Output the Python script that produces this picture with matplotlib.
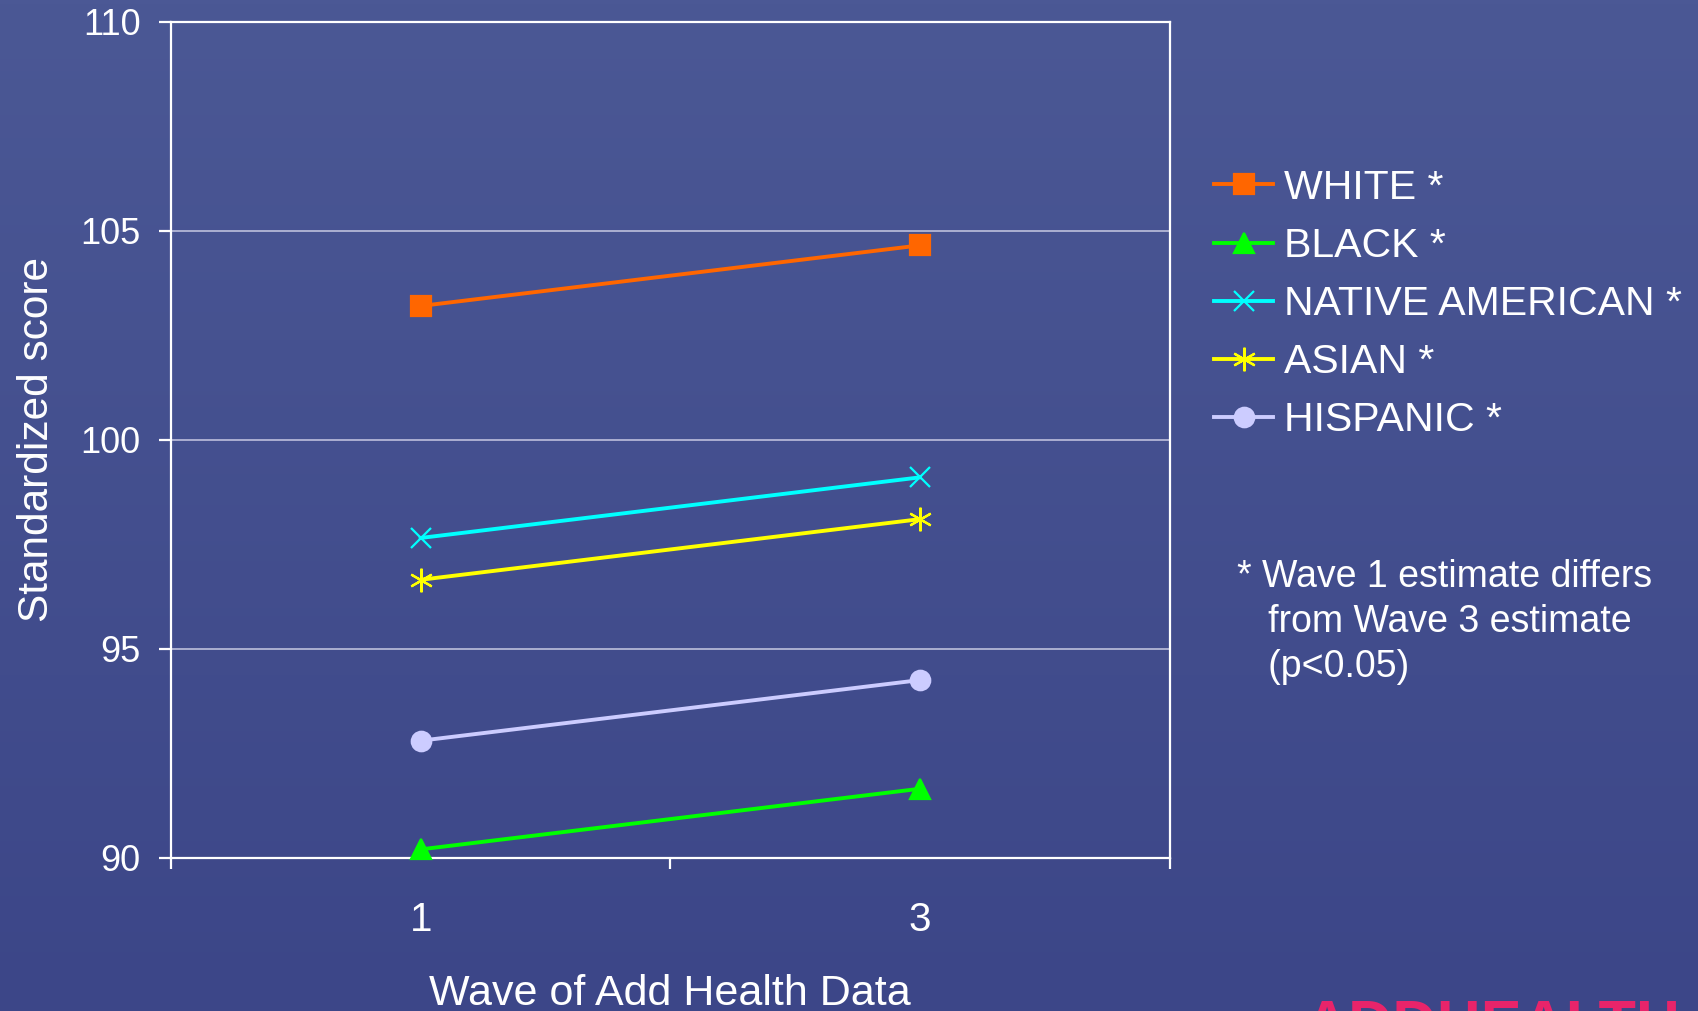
import numpy as np
import matplotlib
matplotlib.use("Agg")
import matplotlib.pyplot as plt
from matplotlib.colors import LinearSegmentedColormap

plt.rcParams['font.family'] = ['Liberation Sans', 'DejaVu Sans']

# Data
waves = ["1", "3"]
groups = ["WHITE *", "BLACK *", "NATIVE AMERICAN *", "ASIAN *", "HISPANIC *"]
white = [103.2, 104.65]
black = [90.2, 91.65]
native_american = [97.65, 99.1]
asian = [96.65, 98.1]
hispanic = [92.8, 94.25]
y_ticks = [90, 95, 100, 105, 110]

series = [white, black, native_american, asian, hispanic]
colors = ["#ff6600", "#00ff00", "#00ffff", "#ffff00", "#ccccff"]
markers = ["s", "^", "x", (6, 2, 0), "o"]
msizes = [14, 15, 15, 17, 14]

W, H, DPI = 1698, 1011, 100
fig = plt.figure(figsize=(W / DPI, H / DPI), dpi=DPI)

# Background gradient
bg = fig.add_axes([0, 0, 1, 1], zorder=-10)
cmap = LinearSegmentedColormap.from_list("bg", ["#4b5895", "#3c4688"])
grad = np.linspace(0, 1, 256).reshape(-1, 1)
bg.imshow(grad, aspect="auto", cmap=cmap, extent=[0, 1, 0, 1], origin="upper")
bg.set_axis_off()

ax = fig.add_axes([0.1007, 0.1516, 0.5881, 0.8269])
ax.set_facecolor("none")

xpos = np.arange(len(waves)) + 0.5
for vals, c, m, ms, lab in zip(series, colors, markers, msizes, groups):
    ax.plot(xpos, vals, color=c, lw=2.8, marker=m, markersize=ms,
            markerfacecolor=c, markeredgecolor=c, markeredgewidth=1.6,
            label=lab, clip_on=False, zorder=3)

ax.set_xlim(0, 2)
ax.set_ylim(90, 110)
ax.set_yticks(y_ticks)
ax.set_yticklabels([str(v) for v in y_ticks])
ax.set_xticks([0, 1, 2])
ax.set_xticklabels([])
ax.set_xticks(xpos, minor=True)
ax.set_xticklabels(waves, minor=True)

for v in [95, 100, 105]:
    ax.axhline(v, color="#b4b7d6", lw=1.3, zorder=1)

for s in ax.spines.values():
    s.set_color("white")
    s.set_linewidth(1.6)

ax.tick_params(axis="y", which="major", direction="out", length=9, width=1.6,
               colors="white", labelsize=26, pad=13)
ax.tick_params(axis="x", which="major", direction="out", length=8, width=1.6,
               colors="white")
ax.tick_params(axis="x", which="minor", length=0, labelsize=29, pad=31,
               colors="white")

ax.set_ylabel("Standardized score", color="white", fontsize=30.5, labelpad=17)
ax.set_xlabel("Wave of Add Health Data", color="white", fontsize=31, labelpad=25)

leg = ax.legend(loc="upper left", bbox_to_anchor=(0.715, 0.833),
                bbox_transform=fig.transFigure, frameon=False, fontsize=29.5,
                handlelength=1.45, handletextpad=0.25, labelspacing=0.49,
                borderaxespad=0, borderpad=0)
for t in leg.get_texts():
    t.set_color("white")

fig.text(0.7285, 0.4475, "* Wave 1 estimate differs\n   from Wave 3 estimate\n   (p<0.05)",
         color="white", fontsize=27, ha="left", va="top", linespacing=1.33)

# Logo text at the lower right corner, partly outside the canvas
fig.text(0.768, -0.045, "ADDHEALTH", color="#e8246a", fontsize=44,
         fontweight="bold", ha="left", va="bottom")

fig.savefig("out.png", dpi=DPI)
